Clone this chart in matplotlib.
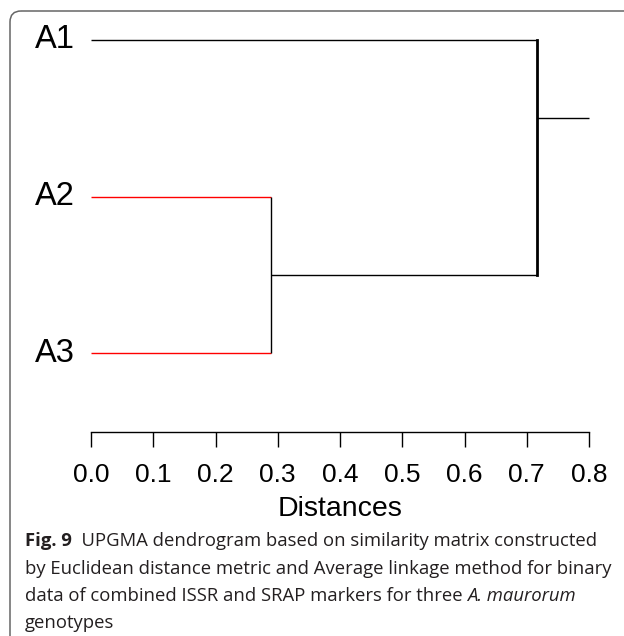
import matplotlib
matplotlib.use("Agg")
import matplotlib.pyplot as plt
from matplotlib.patches import FancyBboxPatch

### Données du dendrogramme

labels = ["A1", "A2", "A3"]
leaf_y = [3, 2, 1]
leaf_colors = ["black", "red", "red"]
h_a2a3 = 0.289      # fusion A2-A3
h_root = 0.716      # fusion A1-(A2,A3)
root_tip = 0.8      # bout de la racine
ticks = [0.0, 0.1, 0.2, 0.3, 0.4, 0.5, 0.6, 0.7, 0.8]

caption_lines = [
    [("Fig. 9", "bold", "normal"), ("  UPGMA dendrogram based on similarity matrix constructed", "normal", "normal")],
    [("by Euclidean distance metric and Average linkage method for binary", "normal", "normal")],
    [("data of combined ISSR and SRAP markers for three ", "normal", "normal"), ("A. maurorum", "normal", "italic")],
    [("genotypes", "normal", "normal")],
]

W, H = 624, 636
fig = plt.figure(figsize=(W / 100, H / 100), dpi=100)
plt.rcParams["font.family"] = ["Liberation Sans", "DejaVu Sans"]

### Cadre arrondi
bg = fig.add_axes([0, 0, 1, 1])
bg.set_xlim(0, W)
bg.set_ylim(H, 0)
bg.axis("off")
bg.add_patch(FancyBboxPatch((10, 11), 800, 800, boxstyle="round,pad=0,rounding_size=11",
                            fill=False, ec="#666666", lw=1.1))

### Axe du dendrogramme
x0, x1 = 91, 589
ytop, ybase = 40, 432
ax = fig.add_axes([x0 / W, (H - ybase) / H, (x1 - x0) / W, (ybase - ytop) / H])
ax.set_xlim(0, 0.8)
ylo = 1 - (ybase - 353) / 156.5
ax.set_ylim(ylo, 3)
ax.patch.set_visible(False)
for s in ["top", "right", "left"]:
    ax.spines[s].set_visible(False)
ax.spines["bottom"].set_linewidth(1.0)
ax.set_yticks([])
ax.set_xticks(ticks)
ax.set_xticklabels(["%.1f" % t for t in ticks], fontsize=19)
ax.tick_params(axis="x", direction="out", length=10.5, width=1.0, pad=12)
ax.set_xlabel("Distances", fontsize=20.5)
ax.xaxis.set_label_coords(0.5, -(496 - ybase) / (ybase - ytop))

kw = dict(lw=1.0, clip_on=False, solid_capstyle="butt")
# feuilles
parents = [h_root, h_a2a3, h_a2a3]
for lab, y, c, p in zip(labels, leaf_y, leaf_colors, parents):
    ax.plot([0, p], [y, y], color=c, **kw)
    ax.text(-0.026, y, lab, ha="right", va="center", fontsize=23.5)
# noeud A2-A3
ax.plot([h_a2a3, h_a2a3], [leaf_y[2], leaf_y[1]], color="black", **kw)
mid = (leaf_y[1] + leaf_y[2]) / 2
ax.plot([h_a2a3, h_root], [mid, mid], color="black", **kw)
# racine
ax.plot([h_root, h_root], [mid, leaf_y[0]], color="black", lw=2, clip_on=False)
root_y = (leaf_y[0] + leaf_y[1]) / 2
ax.plot([h_root, root_tip], [root_y, root_y], color="black", **kw)

### Légende de la figure
fig.canvas.draw()
r = fig.canvas.get_renderer()
base_y = [546, 573.5, 601, 628]
for line, yb in zip(caption_lines, base_y):
    x = 25
    for txt, wgt, sty in line:
        t = fig.text(x / W, 1 - yb / H, txt, fontsize=13.3, weight=wgt, style=sty,
                     family=["Open Sans", "DejaVu Sans"], color="#231f20", va="baseline", ha="left")
        bb = t.get_window_extent(r)
        x += bb.width

fig.savefig("out.png", dpi=100)
